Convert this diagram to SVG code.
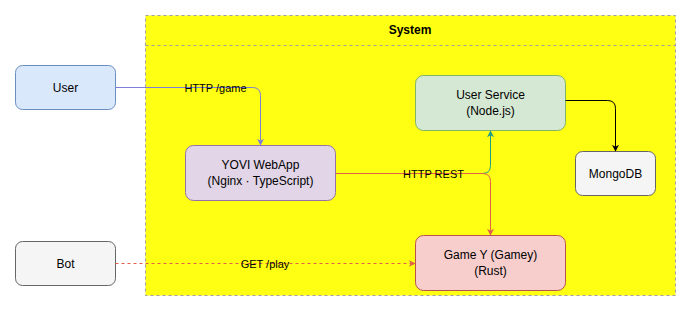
<svg xmlns="http://www.w3.org/2000/svg" width="692" height="311" viewBox="0 0 692 311">
<style>
text{font-family:"Liberation Sans",Arial,sans-serif;font-size:12px;fill:#000;text-anchor:middle;dominant-baseline:central}
.e{fill:none;stroke-width:1}
.lbl{font-size:11px}
</style>
<defs>
<marker id="aP" viewBox="0 0 10 10" refX="9" refY="5" markerWidth="7" markerHeight="7" orient="auto"><path d="M0,0 L10,5 L0,10 L3,5 z" fill="#7e7ed8"/></marker>
<marker id="aT" viewBox="0 0 10 10" refX="9" refY="5" markerWidth="7" markerHeight="7" orient="auto"><path d="M0,0 L10,5 L0,10 L3,5 z" fill="#1f9e88"/></marker>
<marker id="aR" viewBox="0 0 10 10" refX="9" refY="5" markerWidth="7" markerHeight="7" orient="auto"><path d="M0,0 L10,5 L0,10 L3,5 z" fill="#e0604a"/></marker>
<marker id="aK" viewBox="0 0 10 10" refX="9" refY="5" markerWidth="7" markerHeight="7" orient="auto"><path d="M0,0 L10,5 L0,10 L3,5 z" fill="#000"/></marker>
</defs>
<rect width="692" height="311" fill="#fff"/>
<g id="system">
<rect x="145.5" y="15.5" width="530" height="280" fill="#ffff14" stroke="#a0a0a0" stroke-dasharray="3,3"/>
<line x1="145.5" y1="45.5" x2="675.5" y2="45.5" stroke="#a0a0a0" stroke-dasharray="3,3"/>
<text x="410" y="30" font-weight="bold">System</text>
</g>
<g id="user"><rect x="15.5" y="65.5" width="100" height="44" rx="7" fill="#dae8fc" stroke="#6c8ebf"/><text x="65.5" y="87.5">User</text></g>
<g id="bot"><rect x="15.5" y="241.5" width="100" height="44" rx="7" fill="#f5f5f5" stroke="#666"/><text x="65.5" y="263.5">Bot</text></g>
<g id="webapp"><rect x="185.5" y="145.5" width="150" height="55" rx="8" fill="#e1d5e7" stroke="#9673a6"/><text x="260.5" y="165">YOVI WebApp</text><text x="260.5" y="181">(Nginx · TypeScript)</text></g>
<g id="userservice"><rect x="415.5" y="75.5" width="150" height="55" rx="8" fill="#d5e8d4" stroke="#82b366"/><text x="490.5" y="95">User Service</text><text x="490.5" y="111">(Node.js)</text></g>
<g id="mongodb"><rect x="575.5" y="151.5" width="80" height="44" rx="7" fill="#f5f5f5" stroke="#666"/><text x="615.5" y="173.5">MongoDB</text></g>
<g id="gamey"><rect x="415.5" y="235.5" width="150" height="55" rx="8" fill="#f8cecc" stroke="#b85450"/><text x="490.5" y="255">Game Y (Gamey)</text><text x="490.5" y="271">(Rust)</text></g>
<g id="connectors">
<path class="e" d="M115.5,87.5 H252.5 Q260.5,87.5 260.5,95.5 V145" stroke="#7e7ed8" marker-end="url(#aP)"/>
<path class="e" d="M335.5,173.5 H482.5 Q490.5,173.5 490.5,165.5 V131" stroke="#1f9e88" marker-end="url(#aT)"/>
<path class="e" d="M335.5,173.5 H482.5 Q490.5,173.5 490.5,181.5 V235" stroke="#e0604a" marker-end="url(#aR)"/>
<path class="e" d="M565.5,100.5 H607.5 Q615.5,100.5 615.5,108.5 V151" stroke="#000" marker-end="url(#aK)"/>
<path class="e" d="M115.5,263.5 H415" stroke="#e0604a" stroke-dasharray="3,3" marker-end="url(#aR)"/>
<text class="lbl" x="215.5" y="87.5">HTTP /game</text>
<text class="lbl" x="433.5" y="173.5">HTTP REST</text>
<text class="lbl" x="265" y="263.5">GET /play</text>
</g>
</svg>
